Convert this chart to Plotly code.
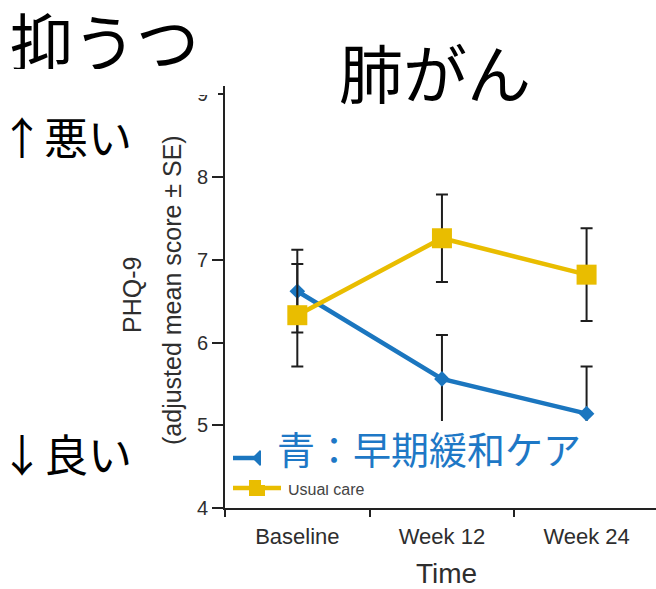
import plotly.graph_objects as go

# PHQ-9 depression scores over time, lung cancer cohort
time_points = ["Baseline", "Week 12", "Week 24"]
early_pc_mean = [6.62, 5.56, 5.14]
early_pc_se = [0.50, 0.53, 0.57]
usual_care_mean = [6.33, 7.26, 6.82]
usual_care_se = [0.62, 0.53, 0.56]
y_tick_values = [4, 5, 6, 7, 8, 9]
y_tick_labels = ["4", "5", "6", "7", "8", "9"]

BLUE = "#1B76BF"
YELLOW = "#E9BD00"
BAR = "#1E1E1E"
TXT = "#2E2E2E"
LATIN = "Liberation Sans, Arial, sans-serif"
CJK = "Noto Sans CJK JP, sans-serif"

W, H = 656, 589
L, R, T, B = 225, 0, 86, 81
PW, PH = W - L - R, H - T - B


def fx(x):
    """pixel column -> paper x"""
    return (x - L) / PW


def fy(y):
    """pixel row -> paper y"""
    return (H - B - y) / PH


fig = go.Figure()

fig.add_trace(go.Scatter(
    x=time_points, y=early_pc_mean, mode="lines+markers",
    line=dict(color=BLUE, width=4.5),
    marker=dict(symbol="diamond", size=12, color=BLUE),
    error_y=dict(type="data", array=early_pc_se, color=BAR, thickness=2, width=6),
    showlegend=False,
))
fig.add_trace(go.Scatter(
    x=time_points, y=usual_care_mean, mode="lines+markers",
    line=dict(color=YELLOW, width=4.5),
    marker=dict(symbol="square", size=20, color=YELLOW),
    error_y=dict(type="data", array=usual_care_se, color=BAR, thickness=2, width=6),
    showlegend=False,
))

shapes = [
    # white legend panel
    dict(type="rect", xref="paper", yref="paper", layer="above",
         x0=fx(227), x1=fx(600), y0=fy(421), y1=fy(506),
         fillcolor="white", line=dict(width=0)),
    # legend glyph: early palliative care
    dict(type="line", xref="paper", yref="paper", layer="above",
         x0=fx(233), x1=fx(259), y0=fy(458), y1=fy(458),
         line=dict(color=BLUE, width=4.5)),
    dict(type="path", xref="paper", yref="paper", layer="above",
         path=(f"M {fx(252)} {fy(458)} L {fx(260)} {fy(450)} "
               f"L {fx(268)} {fy(458)} L {fx(260)} {fy(466)} Z"),
         fillcolor=BLUE, line=dict(width=0)),
    # legend glyph: usual care
    dict(type="line", xref="paper", yref="paper", layer="above",
         x0=fx(233), x1=fx(281), y0=fy(488), y1=fy(488),
         line=dict(color=YELLOW, width=4.5)),
    dict(type="rect", xref="paper", yref="paper", layer="above",
         x0=fx(249), x1=fx(265), y0=fy(480), y1=fy(496),
         fillcolor=YELLOW, line=dict(width=0)),
]

annotations = [
    dict(text="Usual care", x=fx(286), y=fy(489), xanchor="left",
         font=dict(family=LATIN, size=16, color="#444444")),
    # white label panel laid over the first legend entry
    dict(text=" ", x=fx(261), y=fy(421), xanchor="left", yanchor="top",
         width=339, height=64, bgcolor="white", borderpad=0, borderwidth=0,
         font=dict(family=LATIN, size=10)),
    # white patch trimming the top tick label
    dict(text=" ", x=fx(182), y=fy(58), xanchor="left", yanchor="top",
         width=36, height=37, bgcolor="white", borderpad=0, borderwidth=0,
         font=dict(family=LATIN, size=10)),
    dict(text="青：早期緩和ケア", x=fx(429), y=fy(447),
         font=dict(family=CJK, size=38, color="#1E78C6")),
    dict(text="PHQ-9", x=fx(132), y=fy(295), textangle=-90,
         font=dict(family=LATIN, size=25, color=TXT)),
    dict(text="(adjusted mean score ± SE)", x=fx(172), y=fy(290), textangle=-90,
         font=dict(family=LATIN, size=25, color=TXT)),
    dict(text="Time", x=fx(446), y=fy(573), height=30,
         font=dict(family=LATIN, size=28, color=TXT)),
    dict(text="抑うつ", x=fx(104), y=fy(38), height=62,
         font=dict(family=CJK, size=63, color="black")),
    dict(text="肺がん", x=fx(435), y=fy(70),
         font=dict(family=CJK, size=64, color="black")),
    dict(text="↑悪い", x=fx(66), y=fy(136),
         font=dict(family=CJK, size=44, color="black")),
    dict(text="↓良い", x=fx(66), y=fy(453),
         font=dict(family=CJK, size=44, color="black")),
]
for a in annotations:
    a.setdefault("xref", "paper")
    a.setdefault("yref", "paper")
    a.setdefault("xanchor", "center")
    a.setdefault("yanchor", "middle")
    a.setdefault("showarrow", False)

fig.update_layout(
    width=W, height=H,
    margin=dict(l=L, r=R, t=T, b=B),
    paper_bgcolor="white", plot_bgcolor="white",
    shapes=shapes, annotations=annotations,
    xaxis=dict(
        type="category", range=[-0.5, 2.48], tickson="boundaries",
        ticks="outside", ticklen=7, tickwidth=2, tickcolor="#222",
        showline=True, linecolor="#222", linewidth=2,
        showgrid=False, zeroline=False, ticklabelstandoff=8,
        tickfont=dict(family=LATIN, size=22, color=TXT),
    ),
    yaxis=dict(
        range=[4, 9.1], tickvals=y_tick_values, ticktext=y_tick_labels,
        ticks="outside", ticklen=11, tickwidth=2, tickcolor="#222",
        showline=True, linecolor="#222", linewidth=2,
        showgrid=False, zeroline=False,
        tickfont=dict(family=LATIN, size=20, color=TXT),
    ),
)

fig.write_html("out.html")
